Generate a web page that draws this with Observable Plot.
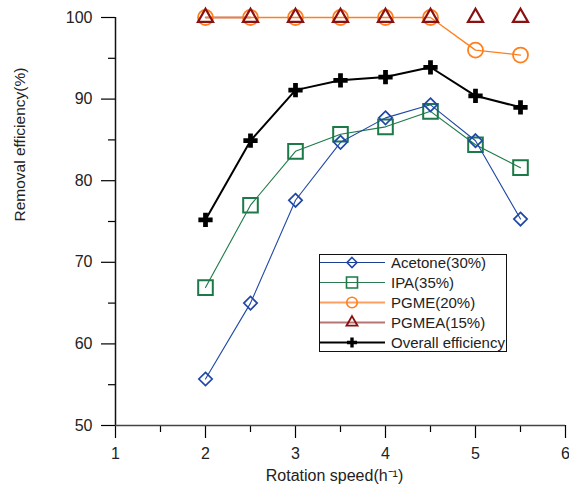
<!DOCTYPE html>
<html><head><meta charset="utf-8">
<script src="https://cdn.jsdelivr.net/npm/d3@7"></script>
<script src="https://cdn.jsdelivr.net/npm/@observablehq/plot@0.6"></script>
<style>body{margin:0;background:#fff}#chart{width:569px;height:486px}</style>
</head><body><div id="chart"></div>
<script>
const speeds = [2, 2.5, 3, 3.5, 4, 4.5, 5, 5.5];
const acetone = [55.7, 65.0, 77.6, 84.7, 87.7, 89.3, 84.9, 75.3];
const ipa = [66.9, 77.0, 83.6, 85.7, 86.6, 88.5, 84.4, 81.6];
const pgme = [100, 100, 100, 100, 100, 100, 96.0, 95.4];
const pgmea = [100, 100, 100, 100, 100, 100, 100, 100];
const overall = [75.2, 84.9, 91.1, 92.3, 92.7, 93.9, 90.4, 89.0];
const seriesNames = ["Acetone(30%)", "IPA(35%)", "PGME(20%)", "PGMEA(15%)", "Overall efficiency"];
const xMajor = [1, 2, 3, 4, 5, 6];
const xMinor = [1.5, 2.5, 3.5, 4.5, 5.5];
const yMajor = [50, 60, 70, 80, 90, 100];
const yMinor = [55, 65, 75, 85, 95];
const xTitle = "Rotation speed(h\u207B\u00B9)";
const yTitle = "Removal efficiency(%)";

const C = {ace: "#1f48a6", ipa: "#1b7a47", pgme: "#ff7f1e", pgmea: "#8b1010", all: "#000"};
const rows = vals => speeds.map((x, i) => ({x, y: vals[i]}));
const font = "'Liberation Sans', Arial, sans-serif";

const plot = Plot.plot({
  width: 569, height: 486,
  marginLeft: 115, marginRight: 4, marginTop: 17, marginBottom: 61,
  style: {fontFamily: font, fontSize: "16px", background: "white", overflow: "visible"},
  x: {domain: [1, 6], label: null},
  y: {domain: [50, 100], label: null},
  marks: [
    Plot.axisX(xMinor, {tickSize: 7, tickFormat: () => "", label: null, strokeWidth: 1.2}),
    Plot.axisX(xMajor, {tickSize: 13, tickPadding: 9, label: null, strokeWidth: 1.2, fill: "#222", fontSize: 16}),
    Plot.axisY(yMinor, {tickSize: 7, tickFormat: () => "", label: null, strokeWidth: 1.2}),
    Plot.axisY(yMajor, {tickSize: 14, tickPadding: 9, label: null, strokeWidth: 1.2, fill: "#222", fontSize: 16}),
    Plot.ruleX([1], {stroke: "#111", strokeWidth: 1.5}),
    Plot.ruleY([50], {stroke: "#444", strokeWidth: 1.5}),
    Plot.text([xTitle], {frameAnchor: "bottom", dy: 55, dx: -6, fill: "#222", fontSize: 16}),
    Plot.text([yTitle], {frameAnchor: "left", dx: -95, rotate: -90, fill: "#222", fontSize: 15.5}),
    Plot.line(rows(pgmea).filter(d => d.x <= 2.5), {x: "x", y: "y", stroke: C.pgmea, strokeWidth: 1.3}),
    Plot.line(rows(pgme), {x: "x", y: "y", stroke: C.pgme, strokeWidth: 1.3}),
    Plot.dot(rows(pgme), {x: "x", y: "y", r: 7.5, stroke: C.pgme, strokeWidth: 1.8, fill: "none"}),
    Plot.dot(rows(pgmea), {x: "x", y: "y", symbol: "triangle2", r: 7.2, stroke: C.pgmea, strokeWidth: 2.2}),
    Plot.line(rows(ipa), {x: "x", y: "y", stroke: C.ipa, strokeWidth: 1.1}),
    Plot.dot(rows(ipa), {x: "x", y: "y", symbol: "square2", r: 9.3, stroke: C.ipa, strokeWidth: 2}),
    Plot.line(rows(acetone), {x: "x", y: "y", stroke: C.ace, strokeWidth: 1.1}),
    Plot.dot(rows(acetone), {x: "x", y: "y", symbol: "diamond2", r: 6, stroke: C.ace, strokeWidth: 1.7}),
    Plot.line(rows(overall), {x: "x", y: "y", stroke: C.all, strokeWidth: 2}),
    Plot.dot(rows(overall), {x: "x", y: "y", symbol: "cross", r: 6, fill: C.all})
  ]
});
document.getElementById("chart").appendChild(plot);

// legend
const svg = d3.select(plot);
const lg = svg.append("g");
const L = {x: 319.5, y: 254.5, w: 187, h: 97, row0: 262.5, rowStep: 20, lineX0: 320, lineX1: 385, symX: 352, textX: 391};
lg.append("rect").attr("x", L.x).attr("y", L.y).attr("width", L.w).attr("height", L.h)
  .attr("fill", "white").attr("stroke", "#111").attr("stroke-width", 1);
const entries = [
  {line: "#1a3f95", lw: 1.2, sym: d3.symbolDiamond2, size: 64, stroke: C.ace, fill: "none", sw: 1.6},
  {line: "#2c7a52", lw: 1.2, sym: d3.symbolSquare2, size: 154, stroke: C.ipa, fill: "none", sw: 1.6},
  {line: "#ffa060", lw: 1.8, sym: d3.symbolCircle, size: 88, stroke: C.pgme, fill: "none", sw: 1.6},
  {line: "#b87575", lw: 2, sym: d3.symbolTriangle2, size: 87, stroke: C.pgmea, fill: "none", sw: 1.8},
  {line: "#000", lw: 2, sym: d3.symbolCross, size: 56, stroke: "none", fill: "#000", sw: 0}
];
entries.forEach((e, i) => {
  const y = L.row0 + i * L.rowStep;
  lg.append("line").attr("x1", L.lineX0).attr("x2", L.lineX1).attr("y1", y).attr("y2", y)
    .attr("stroke", e.line).attr("stroke-width", e.lw);
  lg.append("path").attr("d", d3.symbol(e.sym, e.size)()).attr("transform", `translate(${L.symX},${y})`)
    .attr("fill", e.fill).attr("stroke", e.stroke).attr("stroke-width", e.sw);
  lg.append("text").attr("x", L.textX).attr("y", y).attr("dy", "0.35em")
    .attr("text-anchor", "start").attr("font-size", 15).attr("fill", "#222").text(seriesNames[i]);
});
</script>
</body></html>
